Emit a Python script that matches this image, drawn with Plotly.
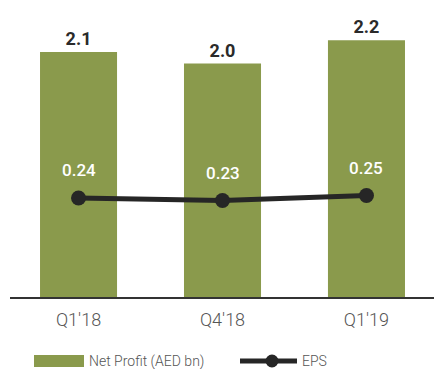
import plotly.graph_objects as go

# Quarterly results: net profit (AED bn) and earnings per share
quarters = ["Q1'18", "Q4'18", "Q1'19"]
net_profit = [2.1, 2.0, 2.2]
eps = [0.24, 0.23, 0.25]

bar_color = "#8a9a4c"
line_color = "#262626"
text_gray = "#555555"
font_family = "Roboto, 'DejaVu Sans', sans-serif"

x_idx = list(range(len(quarters)))

fig = go.Figure()

fig.add_trace(go.Bar(
    x=x_idx, y=net_profit,
    width=0.535,
    marker=dict(color=bar_color, line=dict(width=0)),
    text=[f"{v:.1f}" for v in net_profit],
    textposition="outside",
    textfont=dict(family="Roboto, sans-serif", size=18, color="#2a2a2a", weight="bold"),
    cliponaxis=False,
    showlegend=False,
))

fig.add_trace(go.Scatter(
    x=x_idx, y=eps, yaxis="y2",
    mode="lines+markers",
    line=dict(color=line_color, width=5),
    marker=dict(color=line_color, size=15),
    showlegend=False,
))

# EPS value labels, white, above each point
for xi, v in zip(x_idx, eps):
    fig.add_annotation(
        x=xi, y=v, xref="x", yref="y2",
        text=f"{v:.2f}", showarrow=False, yshift=28,
        font=dict(family=font_family, size=17, color="white", weight=500),
    )

# Legend drawn below the axis
fig.add_shape(type="rect", xref="paper", yref="paper",
              x0=(34 - 10) / 424, x1=(84 - 10) / 424,
              y0=-(355 - 297) / 297, y1=-(367 - 297) / 297,
              fillcolor=bar_color, line=dict(width=0))
fig.add_annotation(xref="paper", yref="paper",
                   x=(87 - 10) / 424, y=-(361 - 297) / 297,
                   xanchor="left", yanchor="middle", showarrow=False,
                   text="Net Profit (AED bn)",
                   font=dict(family=font_family, size=14, color=text_gray, weight=300))
fig.add_shape(type="line", xref="paper", yref="paper",
              x0=(240 - 10) / 424, x1=(297 - 10) / 424,
              y0=-(361 - 297) / 297, y1=-(361 - 297) / 297,
              line=dict(color=line_color, width=5))
fig.add_shape(type="circle", xref="paper", yref="paper",
              x0=(265.5 - 10) / 424, x1=(278.5 - 10) / 424,
              y0=-(354.5 - 297) / 297, y1=-(367.5 - 297) / 297,
              fillcolor=line_color, line=dict(width=0))
fig.add_annotation(xref="paper", yref="paper",
                   x=(300 - 10) / 424, y=-(361 - 297) / 297,
                   xanchor="left", yanchor="middle", showarrow=False,
                   text="EPS",
                   font=dict(family=font_family, size=14, color=text_gray, weight=300))

fig.update_layout(
    width=434, height=369,
    margin=dict(l=10, r=0, t=0, b=72),
    paper_bgcolor="white", plot_bgcolor="white",
    xaxis=dict(
        range=[-0.476, 2.469],
        tickmode="array", tickvals=x_idx, ticktext=quarters,
        showgrid=False, zeroline=False,
        showline=True, linecolor="#333333", linewidth=2,
        ticks="", ticklabelstandoff=5,
        tickfont=dict(family=font_family, size=18, color=text_gray, weight=300),
    ),
    yaxis=dict(range=[0, 2.545], visible=False, showgrid=False),
    yaxis2=dict(range=[-0.156, 1.032], overlaying="y", visible=False, showgrid=False),
)

fig.write_html("out.html")
